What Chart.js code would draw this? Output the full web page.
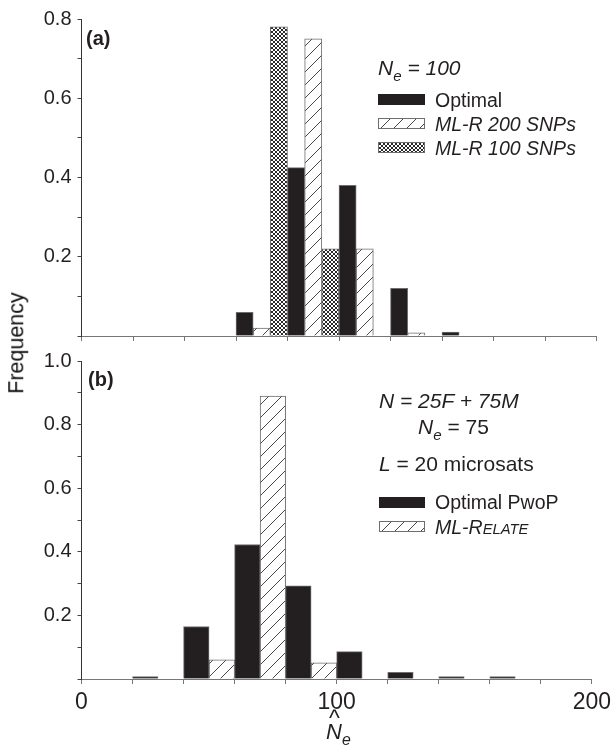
<!DOCTYPE html>
<html>
<head>
<meta charset="utf-8">
<script src="https://cdn.jsdelivr.net/npm/chart.js@4.4.1/dist/chart.umd.min.js"></script>
<style>
  body { margin: 0; background: #fff; }
  #wrap { position: relative; width: 616px; height: 749px; overflow: hidden;
          font-family: "Liberation Sans", Arial, sans-serif; color: #231f20; }
  #wrap canvas { position: absolute; left: 0; }
  #chartA { top: 0; }
  #chartB { top: 340px; }
  .txt { position: absolute; white-space: nowrap; line-height: 1; }
  .it { font-style: italic; }
  .sub { font-size: 0.72em; position: relative; top: 0.38em; }
  .sw { position: absolute; }
</style>
</head>
<body>
<div id="wrap">
  <canvas id="chartA" width="616" height="366"></canvas>
  <canvas id="chartB" width="616" height="409"></canvas>

  <div class="txt" id="ylab" style="left:17px; top:343px; font-size:21.5px; color:#111; transform: translate(-50%,-50%) rotate(-90deg);">Frequency</div>

  <!-- panel (a) annotations -->
  <div class="txt" style="left:86px; top:28px; font-size:20px; font-weight:bold;">(a)</div>
  <div class="txt it" style="left:378px; top:57px; font-size:21px;">N<span class="sub">e</span> = 100</div>
  <canvas class="sw" id="swA0" width="47" height="11" style="left:378px; top:94px;"></canvas>
  <canvas class="sw" id="swA1" width="47" height="11" style="left:378px; top:118px;"></canvas>
  <canvas class="sw" id="swA2" width="47" height="11" style="left:378px; top:142px;"></canvas>
  <div class="txt" style="left:435px; top:90.5px; font-size:19.5px;">Optimal</div>
  <div class="txt it" style="left:435px; top:114.5px; font-size:19.5px;">ML-R 200 SNPs</div>
  <div class="txt it" style="left:435px; top:138.5px; font-size:19.5px;">ML-R 100 SNPs</div>

  <!-- panel (b) annotations -->
  <div class="txt" style="left:88px; top:369px; font-size:20px; font-weight:bold;">(b)</div>
  <div class="txt it" style="left:379px; top:390px; font-size:21px;">N = 25F + 75M</div>
  <div class="txt" style="left:418px; top:416px; font-size:21px;"><i>N<span class="sub">e</span></i> = 75</div>
  <div class="txt" style="left:379px; top:452.5px; font-size:21px;"><i>L</i> = 20 microsats</div>
  <canvas class="sw" id="swB0" width="46" height="11" style="left:379px; top:496.5px;"></canvas>
  <canvas class="sw" id="swB1" width="46" height="11" style="left:379px; top:521px;"></canvas>
  <div class="txt" style="left:435px; top:492.5px; font-size:19.5px;">Optimal PwoP</div>
  <div class="txt it" style="left:435px; top:518px; font-size:19.5px;">ML-R<span style="font-size:0.76em">ELATE</span></div>

  <!-- x axis title: N hat, subscript e -->
  <div class="txt" style="left:329px; top:707px; font-size:23px;">^</div>
  <div class="txt it" style="left:326px; top:721px; font-size:22px;">N<span class="sub">e</span></div>
</div>

<script>
// bins are 20 wide, 0..200; values are frequencies
const binCenters = [10, 30, 50, 70, 90, 110, 130, 150, 170, 190];

const optimalA = [0, 0, 0, 0.06, 0.425, 0.38, 0.12, 0.01, 0, 0];
const mlr200A  = [0, 0, 0, 0.02, 0.75, 0.22, 0.008, 0, 0, 0];
const mlr100A  = [0, 0, 0, 0.78, 0.22, 0, 0, 0, 0, 0];

const optimalB  = [0, 0.008, 0.165, 0.423, 0.293, 0.086, 0.021, 0.008, 0.008, 0];
const mlRelateB = [0, 0, 0.06, 0.89, 0.051, 0, 0, 0, 0, 0];

const xTickLabels  = [0, 100, 200];
const yTickLabelsA = [0.2, 0.4, 0.6, 0.8];
const yTickLabelsB = [0.2, 0.4, 0.6, 0.8, 1.0];

const INK = '#231f20';
const EDGE = '#6e6e6e';
const FONT = '"Liberation Sans", Arial, sans-serif';

function hatchPattern(ctx) {
  const s = 13;
  const t = document.createElement('canvas');
  t.width = s; t.height = s;
  const c = t.getContext('2d');
  c.fillStyle = '#fff';
  c.fillRect(0, 0, s, s);
  c.strokeStyle = '#333';
  c.lineWidth = 0.9;
  c.beginPath();
  c.moveTo(0, s); c.lineTo(s, 0);
  c.moveTo(-2, 2); c.lineTo(2, -2);
  c.moveTo(s - 2, s + 2); c.lineTo(s + 2, s - 2);
  c.stroke();
  return ctx.createPattern(t, 'repeat');
}

function crossPattern(ctx) {
  const s = 4;
  const t = document.createElement('canvas');
  t.width = s; t.height = s;
  const c = t.getContext('2d');
  c.fillStyle = '#fff';
  c.fillRect(0, 0, s, s);
  c.strokeStyle = '#2a2a2a';
  c.lineWidth = 1;
  c.beginPath();
  c.moveTo(0, 0); c.lineTo(s, s);
  c.moveTo(s, 0); c.lineTo(0, s);
  c.stroke();
  return ctx.createPattern(t, 'repeat');
}

function toPoints(values) {
  return binCenters
    .map((x, i) => ({ x: x, y: values[i] }))
    .filter(p => p.y > 0);
}

function pick(list, digits) {
  return function (v) {
    const hit = list.find(l => Math.abs(l - v) < 1e-6);
    return hit === undefined ? '' : hit.toFixed(digits);
  };
}

function baseOptions(yMax, yLabels, padTop, xHeight, showX) {
  return {
    responsive: false,
    animation: false,
    layout: { padding: { top: padTop, right: 19.5, left: 0, bottom: 0 } },
    plugins: { legend: { display: false }, tooltip: { enabled: false } },
    datasets: { bar: { categoryPercentage: 1, barPercentage: 1 } },
    scales: {
      x: {
        type: 'linear', min: 0, max: 200, offset: false,
        grid: { offset: false, drawOnChartArea: false, tickLength: 5, color: '#777' },
        border: { display: true, color: '#777', width: 1 },
        ticks: {
          stepSize: 20, padding: 5, maxRotation: 0, autoSkip: false,
          color: INK, font: { family: FONT, size: 23 },
          callback: showX ? pick(xTickLabels, 0) : () => ''
        },
        afterFit: s => { s.height = xHeight; }
      },
      y: {
        min: 0, max: yMax,
        grid: { drawOnChartArea: false, tickLength: 4, color: '#444' },
        border: { display: true, color: '#333', width: 1 },
        ticks: {
          stepSize: 0.1, padding: 6, autoSkip: false,
          color: INK, font: { family: FONT, size: 20 },
          callback: pick(yLabels, 1)
        },
        afterFit: s => { s.width = 81.5; }
      }
    }
  };
}

const ctxA = document.getElementById('chartA').getContext('2d');
new Chart(ctxA, {
  type: 'bar',
  data: {
    datasets: [
      { label: 'Optimal', data: toPoints(optimalA), backgroundColor: INK, borderColor: EDGE, borderWidth: 1 },
      { label: 'ML-R 200 SNPs', data: toPoints(mlr200A), backgroundColor: hatchPattern(ctxA), borderColor: EDGE, borderWidth: 1 },
      { label: 'ML-R 100 SNPs', data: toPoints(mlr100A), backgroundColor: crossPattern(ctxA), borderColor: EDGE, borderWidth: 1 }
    ]
  },
  options: baseOptions(0.8, yTickLabelsA, 19, 30, false)
});

const ctxB = document.getElementById('chartB').getContext('2d');
new Chart(ctxB, {
  type: 'bar',
  data: {
    datasets: [
      { label: 'Optimal PwoP', data: toPoints(optimalB), backgroundColor: INK, borderColor: EDGE, borderWidth: 1 },
      { label: 'ML-RELATE', data: toPoints(mlRelateB), backgroundColor: hatchPattern(ctxB), borderColor: EDGE, borderWidth: 1 }
    ]
  },
  options: baseOptions(1.0, yTickLabelsB, 21, 70, true)
});

// legend swatches
function swatch(id, kind) {
  const cv = document.getElementById(id);
  const c = cv.getContext('2d');
  if (kind === 'solid') c.fillStyle = INK;
  else if (kind === 'hatch') c.fillStyle = hatchPattern(c);
  else c.fillStyle = crossPattern(c);
  c.fillRect(0, 0, cv.width, cv.height);
  if (kind !== 'solid') {
    c.strokeStyle = EDGE;
    c.lineWidth = 1;
    c.strokeRect(0.5, 0.5, cv.width - 1, cv.height - 1);
  }
}
swatch('swA0', 'solid');
swatch('swA1', 'hatch');
swatch('swA2', 'cross');
swatch('swB0', 'solid');
swatch('swB1', 'hatch');
</script>
</body>
</html>
